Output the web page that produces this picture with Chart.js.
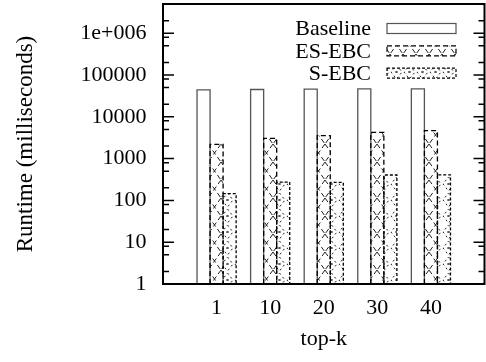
<!DOCTYPE html>
<html>
<head>
<meta charset="utf-8">
<script src="https://cdn.jsdelivr.net/npm/chart.js@4.4.0/dist/chart.umd.min.js"></script>
<style>
  html, body { margin: 0; padding: 0; background: #fff; }
  #wrap { width: 486px; height: 362px; }
</style>
</head>
<body>
<div id="wrap"><canvas id="chart" width="486" height="362"></canvas></div>
<script>
// ============================================
// DATA - runtime per top-k (log scale, ms)
// ============================================
const categories = ['1', '10', '20', '30', '40'];
const seriesNames = ['Baseline', 'ES-EBC', 'S-EBC'];
const baselineMs = [44000, 45000, 46000, 46500, 46500];
const esEbcMs = [2200, 3050, 3550, 4250, 4650];
const sEbcMs = [145, 275, 270, 405, 410];

const yMajorTicks = [1, 10, 100, 1000, 10000, 100000, 1000000];
const yTickLabels = ['1', '10', '100', '1000', '10000', '100000', '1e+006'];
const yMinorSteps = [2, 5, 8];
const yMin = 1;
const yMax = 5000000;

const FONT = "'Liberation Serif', 'Times New Roman', serif";
const canvas = document.getElementById('chart');
const ctx = canvas.getContext('2d');

// empty slot on each side, like gnuplot's xrange [-1:5]
function pad(arr) {
    return [null, ...arr, null];
}

function makePattern(w, h, draw) {
    const c = document.createElement('canvas');
    c.width = w;
    c.height = h;
    const g = c.getContext('2d');
    g.fillStyle = '#fff';
    g.fillRect(0, 0, w, h);
    g.strokeStyle = '#222';
    g.lineWidth = 1;
    draw(g, w, h);
    return ctx.createPattern(c, 'repeat');
}

// big dashed crosshatch
const crossPattern = makePattern(13, 18, (g, w, h) => {
    g.setLineDash([5, 3]);
    g.beginPath();
    g.moveTo(0, 0); g.lineTo(w, h);
    g.moveTo(w, 0); g.lineTo(0, h);
    g.stroke();
});

// small dotted diamonds with a tiny x
const diamondPattern = makePattern(13, 16, (g, w, h) => {
    g.setLineDash([2, 3]);
    g.beginPath();
    g.moveTo(w / 2, 1); g.lineTo(w - 1, h / 2); g.lineTo(w / 2, h - 1); g.lineTo(1, h / 2); g.closePath();
    g.stroke();
    g.setLineDash([]);
    g.beginPath();
    g.moveTo(w / 2 - 1, h / 2 - 1); g.lineTo(w / 2 + 1, h / 2 + 1);
    g.moveTo(w / 2 + 1, h / 2 - 1); g.lineTo(w / 2 - 1, h / 2 + 1);
    g.stroke();
});

// ============================================
// PLUGINS - gnuplot look (outlines, frame, inner ticks, key)
// ============================================
const barOutline = {
    id: 'barOutline',
    afterDatasetsDraw(chart) {
        const c = chart.ctx;
        chart.data.datasets.forEach((ds, i) => {
            const meta = chart.getDatasetMeta(i);
            c.save();
            c.strokeStyle = ds.outlineColor;
            c.lineWidth = 1.3;
            c.setLineDash(ds.outlineDash);
            meta.data.forEach((bar, j) => {
                if (ds.data[j] == null) return;
                const left = bar.x - bar.width / 2;
                const right = bar.x + bar.width / 2;
                c.beginPath();
                c.moveTo(left, bar.base);
                c.lineTo(left, bar.y);
                c.lineTo(right, bar.y);
                c.lineTo(right, bar.base);
                c.stroke();
            });
            c.restore();
        });
    }
};

const frameTicks = {
    id: 'frameTicks',
    afterDraw(chart) {
        const c = chart.ctx;
        const area = chart.chartArea;
        const y = chart.scales.y;
        c.save();
        c.strokeStyle = '#000';
        c.lineWidth = 1.5;
        c.beginPath();
        yMajorTicks.forEach(v => {
            const py = y.getPixelForValue(v);
            c.moveTo(area.left, py); c.lineTo(area.left + 11, py);
            c.moveTo(area.right, py); c.lineTo(area.right - 11, py);
            yMinorSteps.forEach(m => {
                const mv = v * m;
                if (mv >= yMax) return;
                const my = y.getPixelForValue(mv);
                c.moveTo(area.left, my); c.lineTo(area.left + 6, my);
                c.moveTo(area.right, my); c.lineTo(area.right - 6, my);
            });
        });
        c.stroke();
        c.lineWidth = 2;
        c.strokeRect(area.left, area.top, area.right - area.left, area.bottom - area.top);
        c.restore();
    }
};

const gnuKey = {
    id: 'gnuKey',
    afterDraw(chart) {
        const c = chart.ctx;
        c.save();
        c.font = '22px ' + FONT;
        c.textAlign = 'right';
        c.textBaseline = 'middle';
        c.fillStyle = '#000';
        chart.data.datasets.forEach((ds, i) => {
            const rowY = 29.5 + i * 22.3;
            c.fillText(ds.label, 371, rowY);
            c.fillStyle = ds.backgroundColor;
            c.fillRect(387, rowY - 6, 69, 10);
            c.strokeStyle = ds.outlineColor;
            c.lineWidth = 1.2;
            c.setLineDash(ds.outlineDash);
            c.strokeRect(387, rowY - 6, 69, 10);
            c.setLineDash([]);
            c.fillStyle = '#000';
        });
        c.restore();
    }
};

// ============================================
// CHART
// ============================================
new Chart(ctx, {
    type: 'bar',
    data: {
        labels: pad(categories),
        datasets: [
            { label: seriesNames[0], data: pad(baselineMs), backgroundColor: '#fff', outlineColor: '#555', outlineDash: [] },
            { label: seriesNames[1], data: pad(esEbcMs), backgroundColor: crossPattern, outlineColor: '#000', outlineDash: [5, 3] },
            { label: seriesNames[2], data: pad(sEbcMs), backgroundColor: diamondPattern, outlineColor: '#000', outlineDash: [3, 2] }
        ]
    },
    options: {
        responsive: false,
        animation: false,
        devicePixelRatio: 1,
        layout: { autoPadding: false, padding: { top: 4, right: 1.5, left: 0, bottom: 0 } },
        datasets: { bar: { categoryPercentage: 0.73, barPercentage: 1, borderWidth: 0 } },
        plugins: { legend: { display: false }, tooltip: { enabled: false } },
        scales: {
            x: {
                offset: false,
                grid: { display: false, drawTicks: false },
                border: { display: false },
                ticks: { color: '#000', font: { family: FONT, size: 22 }, padding: 11, maxRotation: 0, autoSkip: false },
                title: { display: true, text: 'top-k', color: '#000', font: { family: FONT, size: 22 }, padding: { top: 0, bottom: 9.5 } },
                afterFit(s) {
                    s.height = 78;
                    s.paddingLeft = 0;
                    s.paddingRight = 0;
                }
            },
            y: {
                type: 'logarithmic',
                min: yMin,
                max: yMax,
                grid: { display: false, drawTicks: false },
                border: { display: false },
                ticks: {
                    color: '#000',
                    font: { family: FONT, size: 22 },
                    padding: 16.5,
                    callback: (v) => yTickLabels[yMajorTicks.indexOf(v)]
                },
                afterBuildTicks(s) { s.ticks = yMajorTicks.map(v => ({ value: v })); },
                title: { display: true, text: 'Runtime (milliseconds)', color: '#000', font: { family: FONT, size: 23 }, padding: { top: 12, bottom: 0 } },
                afterFit(s) {
                    s.width = 163;
                    s.paddingTop = 0;
                    s.paddingBottom = 0;
                }
            }
        }
    },
    plugins: [barOutline, frameTicks, gnuKey]
});
</script>
</body>
</html>
